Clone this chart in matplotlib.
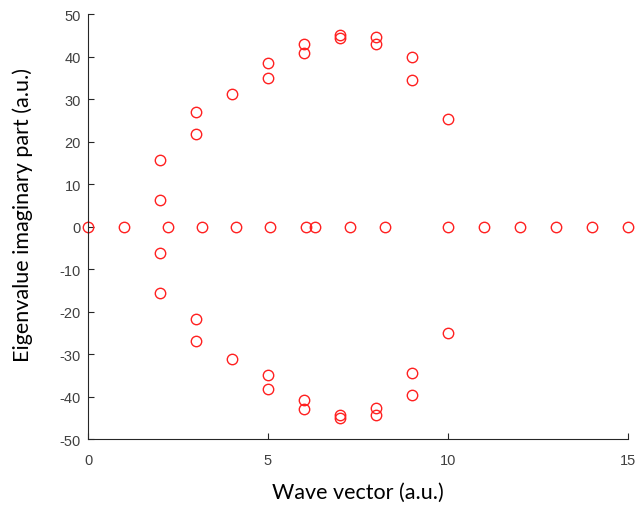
import numpy as np
import matplotlib.pyplot as plt

plt.rcParams['axes.unicode_minus'] = False

# eigenvalue imaginary parts vs. wave vector
k_real = [0, 1, 2.22, 3.17, 4.11, 5.07, 6.06, 6.32, 7.28, 8.24, 10, 11, 12, 13, 14, 15]
im_real = [0] * len(k_real)

k_upper = [2, 2, 3, 3, 4, 5, 5, 6, 6, 7, 7, 8, 8, 9, 9, 10]
im_upper = [15.8, 6.3, 27.1, 21.9, 31.3, 38.4, 35.1, 43.0, 40.9, 45.1, 44.5,
            44.6, 42.9, 39.9, 34.6, 25.3]

k_lower = [2, 2, 3, 3, 4, 5, 5, 6, 6, 7, 7, 8, 8, 9, 9, 10]
im_lower = [-6.2, -15.6, -21.7, -26.9, -31.1, -35.0, -38.2, -40.8, -43.0,
            -44.3, -44.9, -42.7, -44.4, -34.4, -39.7, -25.1]

k = np.concatenate([k_real, k_upper, k_lower])
im = np.concatenate([im_real, im_upper, im_lower])

fig = plt.figure(figsize=(6.38, 5.06), dpi=100)
ax = fig.add_axes([0.138, 0.130, 0.846, 0.840])

ax.plot(k, im, 'o', mfc='none', mec='#ff2020', mew=1.0, ms=7.5, clip_on=False)

ax.set_xlim(0, 15)
ax.set_ylim(-50, 50)
ax.set_xticks([0, 5, 10, 15])
ax.set_yticks(np.arange(-50, 51, 10))

for s in ['top', 'right']:
    ax.spines[s].set_visible(False)
for s in ['left', 'bottom']:
    ax.spines[s].set_color('#262626')
    ax.spines[s].set_linewidth(0.8)
ax.tick_params(direction='in', length=4, width=0.8, color='#262626',
               labelcolor='#404040', labelsize=10.5)
ax.tick_params(axis='x', pad=10)
ax.tick_params(axis='y', pad=5)
for lbl in ax.get_xticklabels() + ax.get_yticklabels():
    lbl.set_family('Liberation Sans')

ax.set_xlabel('Wave vector (a.u.)', fontsize=15.5, family='Lato')
ax.set_ylabel('Eigenvalue imaginary part (a.u.)', fontsize=15.5, family='Lato')
ax.xaxis.set_label_coords(0.5, -0.1)
ax.yaxis.set_label_coords(-0.102, 0.530)

fig.savefig('out.png', dpi=100)
